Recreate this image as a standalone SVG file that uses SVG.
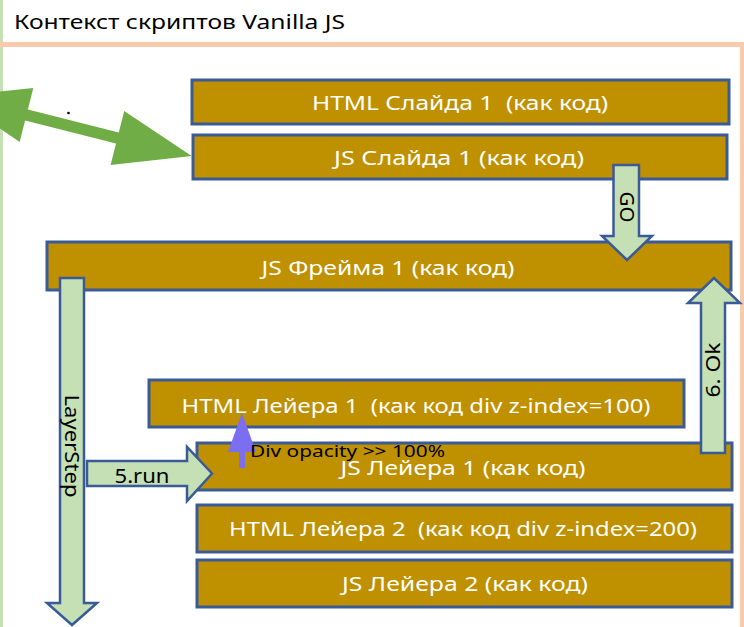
<svg xmlns="http://www.w3.org/2000/svg" width="744" height="627" viewBox="0 0 744 627">
<style>
  .box { fill: #bf9000; stroke: #3a5a98; stroke-width: 3; }
  .bt { fill: #ffffff; font-family: "Noto Sans", "Liberation Sans", sans-serif; font-size: 19px; text-anchor: middle; }
  .arr { fill: #c5e0b4; stroke: #3a5a98; stroke-width: 2.5; stroke-linejoin: miter; }
  .at { fill: #000000; font-family: "Noto Sans", "Liberation Sans", sans-serif; font-size: 19px; text-anchor: middle; }
</style>
<rect x="0" y="0" width="744" height="627" fill="#ffffff"/>
<g id="frame">
  <rect x="0" y="0" width="3" height="627" fill="#c5e0b4"/>
  <rect x="0" y="42" width="744" height="5" fill="#f8cbad"/>
  <rect x="740" y="44" width="4" height="583" fill="#f8cbad"/>
  <text x="14" y="29" font-family="Noto Sans, Liberation Sans, sans-serif" font-size="20" fill="#000" textLength="331" lengthAdjust="spacingAndGlyphs">Контекст скриптов Vanilla JS</text>
</g>
<g id="html-slide1">
  <rect class="box" x="192" y="80" width="537" height="44"/>
  <text class="bt" x="460" y="110" xml:space="preserve" textLength="296" lengthAdjust="spacingAndGlyphs">HTML Слайда 1  (как код)</text>
</g>
<g id="js-slide1">
  <rect class="box" x="193" y="135" width="534" height="44"/>
  <text class="bt" x="459" y="165" textLength="250" lengthAdjust="spacingAndGlyphs">JS Слайда 1 (как код)</text>
</g>
<g id="js-frame1">
  <rect class="box" x="47" y="242" width="684" height="48"/>
  <text class="bt" x="388" y="275" textLength="253" lengthAdjust="spacingAndGlyphs">JS Фрейма 1 (как код)</text>
</g>
<g id="html-layer1">
  <rect class="box" x="149" y="380" width="535" height="47"/>
  <text class="bt" x="416" y="413" xml:space="preserve" textLength="469" lengthAdjust="spacingAndGlyphs">HTML Лейера 1  (как код div z-index=100)</text>
</g>
<g id="js-layer1">
  <rect class="box" x="197" y="443" width="535" height="47"/>
  <text class="bt" x="463" y="475" textLength="245" lengthAdjust="spacingAndGlyphs">JS Лейера 1 (как код)</text>
</g>
<g id="html-layer2">
  <rect class="box" x="197" y="505" width="535" height="47"/>
  <text class="bt" x="463" y="536" xml:space="preserve" textLength="468" lengthAdjust="spacingAndGlyphs">HTML Лейера 2  (как код div z-index=200)</text>
</g>
<g id="js-layer2">
  <rect class="box" x="197" y="560" width="535" height="47"/>
  <text class="bt" x="465" y="591" textLength="246" lengthAdjust="spacingAndGlyphs">JS Лейера 2 (как код)</text>
</g>
<g id="connectors">
  <polygon fill="#70ad47" points="-47.5,96.3 33.3,88.1 27.9,109.6 118.8,132.6 124.2,111.1 191.7,156 110.6,164.9 116,143.4 25.1,120.4 19.7,141.9"/>
  <circle cx="68.5" cy="113" r="1.3" fill="#000"/>
  <g id="go">
    <polygon class="arr" points="613.5,165 639,165 639,236 652,236 627,260 602,236 613.5,236"/>
    <text class="at" transform="translate(627,207) rotate(90)" dominant-baseline="central" textLength="31" lengthAdjust="spacingAndGlyphs">GO</text>
  </g>
  <g id="layerstep">
    <polygon class="arr" points="60,278 84,278 84,603 97,603 72,625 47,603 60,603"/>
    <text class="at" transform="translate(72,446) rotate(90)" dominant-baseline="central" textLength="103" lengthAdjust="spacingAndGlyphs">LayerStep</text>
  </g>
  <g id="ok">
    <polygon class="arr" points="701,453 725,453 725,303 740,303 714,278 688,303 701,303"/>
    <text class="at" transform="translate(713,370) rotate(-90)" dominant-baseline="central" textLength="55" lengthAdjust="spacingAndGlyphs">6. Ok</text>
  </g>
  <g id="run">
    <polygon class="arr" points="87,461 187,461 187,447 212,473.5 187,501 187,486 87,486"/>
    <text class="at" x="142" y="483" textLength="55" lengthAdjust="spacingAndGlyphs">5.run</text>
  </g>
  <g id="opacity">
    <polygon fill="#7b6ef0" points="239,468 245,468 245,452 256,452 242,413 228,452 239,452"/>
    <text x="250" y="457" font-family="Noto Sans, Liberation Sans, sans-serif" font-size="16" fill="#000" textLength="195" lengthAdjust="spacingAndGlyphs">Div opacity &gt;&gt; 100%</text>
  </g>
</g>
</svg>
